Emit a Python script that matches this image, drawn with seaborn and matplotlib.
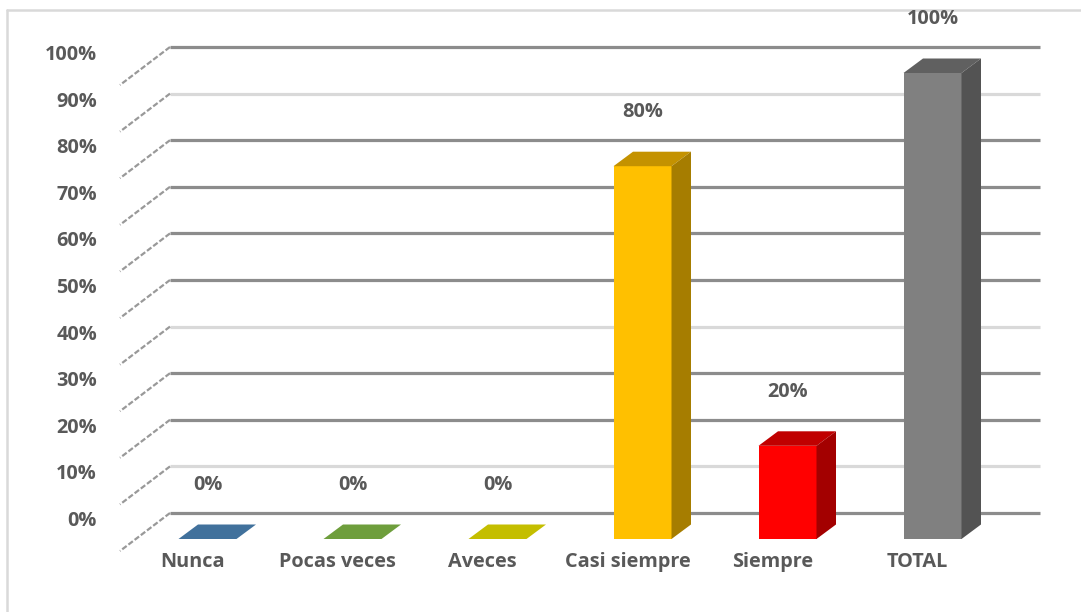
import numpy as np
import pandas as pd
import matplotlib
matplotlib.use("Agg")
import matplotlib.pyplot as plt
from matplotlib.transforms import offset_copy
from matplotlib.patches import Polygon
from matplotlib.lines import Line2D
import seaborn as sns

# ---- data ----
categories = ["Nunca", "Pocas veces", "Aveces", "Casi siempre", "Siempre", "TOTAL"]
values = [0, 0, 0, 80, 20, 100]
y_ticks = [0, 10, 20, 30, 40, 50, 60, 70, 80, 90, 100]
y_tick_labels = [f"{t}%" for t in y_ticks]

# ---- styles ----
front_colors = ["#41719C", "#6E9E3C", "#C4BE00", "#FFC000", "#FF0000", "#808080"]
side_colors = ["#2F5577", "#4E7A28", "#959000", "#A67D00", "#A30000", "#535353"]
top_colors = ["#41719C", "#6E9E3C", "#C4BE00", "#C49200", "#C00000", "#606060"]
grid_styles = ["dark", "light", "dark", "dark", "light", "dark", "dark", "dark", "dark", "light", "dark"]
grid_color = {"dark": "#8C8C8C", "light": "#D9D9D9"}
text_color = "#595959"

sns.set_theme(style="white")
plt.rcParams["font.family"] = ["Open Sans", "DejaVu Sans"]
FS = 14.3

W, H = 1081, 612
fig = plt.figure(figsize=(W / 100, H / 100), dpi=100)
fig.patch.set_facecolor("white")

# front plane of bars: x 135..1005 px, y(0)=539, y(100)=73 from top
ax = fig.add_axes([135 / W, (H - 539) / H, 870 / W, 466 / H])
ax.set_facecolor("none")
for s in ax.spines.values():
    s.set_visible(False)

df = pd.DataFrame({"cat": categories, "val": values})
sns.barplot(data=df, x="cat", y="val", hue="cat", palette=front_colors,
            width=0.4, saturation=1, legend=False, ax=ax, zorder=3,
            edgecolor="none", linewidth=0)
ax.set_xlim(-0.5, len(categories) - 0.5)
ax.set_ylim(0, 100)
ax.set_autoscale_on(False)
ax.set_xticks([])
ax.set_yticks([])
ax.set_xlabel("")
ax.set_ylabel("")

# back wall: offset from front plane
BX, BY = 35, 26
back = offset_copy(ax.transData, fig, x=BX, y=BY, units="dots")
for t, st in zip(y_ticks, grid_styles):
    ax.hlines(t, -0.5, len(categories) - 0.5, transform=back, colors=grid_color[st],
              linewidth=2.3, zorder=1, clip_on=False)

to_fig = fig.transFigure.inverted()

def disp(x, y):
    return ax.transData.transform((x, y))

# side-wall diagonals
for t in y_ticks:
    p = disp(-0.5, t)
    a = p + np.array([BX, BY])
    b = a + np.array([-50, -38])
    fa, fb = to_fig.transform([a, b])
    fig.add_artist(Line2D([fa[0], fb[0]], [fa[1], fb[1]], color="#999999",
                          linewidth=1.6, linestyle=(0, (2.5, 1)), zorder=1))

# 3D faces of bars
D = np.array([19.5, 14.5])
bars = [c[0] for c in ax.containers]
for i, bar in enumerate(bars):
    x0 = bar.get_x()
    x1 = x0 + bar.get_width()
    h = bar.get_height()
    p1 = disp(x0, h)
    p2 = disp(x1, h)
    p3 = disp(x1, 0)
    top = to_fig.transform([p1, p2, p2 + D, p1 + D])
    ax.add_patch(Polygon(top, closed=True, facecolor=top_colors[i], edgecolor="none",
                         transform=fig.transFigure, clip_on=False, zorder=4))
    if h > 0:
        side = to_fig.transform([p2, p3, p3 + D, p2 + D])
        ax.add_patch(Polygon(side, closed=True, facecolor=side_colors[i], edgecolor="none",
                             transform=fig.transFigure, clip_on=False, zorder=4))

# data labels
lab_tr = offset_copy(ax.transData, fig, x=0, y=54, units="dots")
for i, v in enumerate(values):
    ax.text(i, v, f"{v}%", transform=lab_tr, ha="center", va="center",
            fontsize=FS, fontweight="bold", color=text_color, clip_on=False, zorder=6)

# category labels
cat_tr = offset_copy(ax.transData, fig, x=-15, y=-23, units="dots")
for i, c in enumerate(categories):
    ax.text(i, 0, c, transform=cat_tr, ha="center", va="center",
            fontsize=FS, fontweight="bold", color=text_color, clip_on=False, zorder=6)

# y tick labels
ytr = offset_copy(ax.transData, fig, x=97 - 135, y=18, units="dots")
for t, lab in zip(y_ticks, y_tick_labels):
    ax.text(-0.5, t, lab, transform=ytr, ha="right", va="center",
            fontsize=FS, fontweight="bold", color=text_color, clip_on=False, zorder=6)

# chart frame
fig.add_artist(Line2D([7 / W, 7 / W], [0, 1 - 10 / H], color="#D9D9D9", linewidth=1.8, zorder=-1))
fig.add_artist(Line2D([7 / W, 1], [1 - 10 / H, 1 - 10 / H], color="#D9D9D9", linewidth=1.8, zorder=-1))

fig.savefig("out.png", dpi=100, facecolor="white")
